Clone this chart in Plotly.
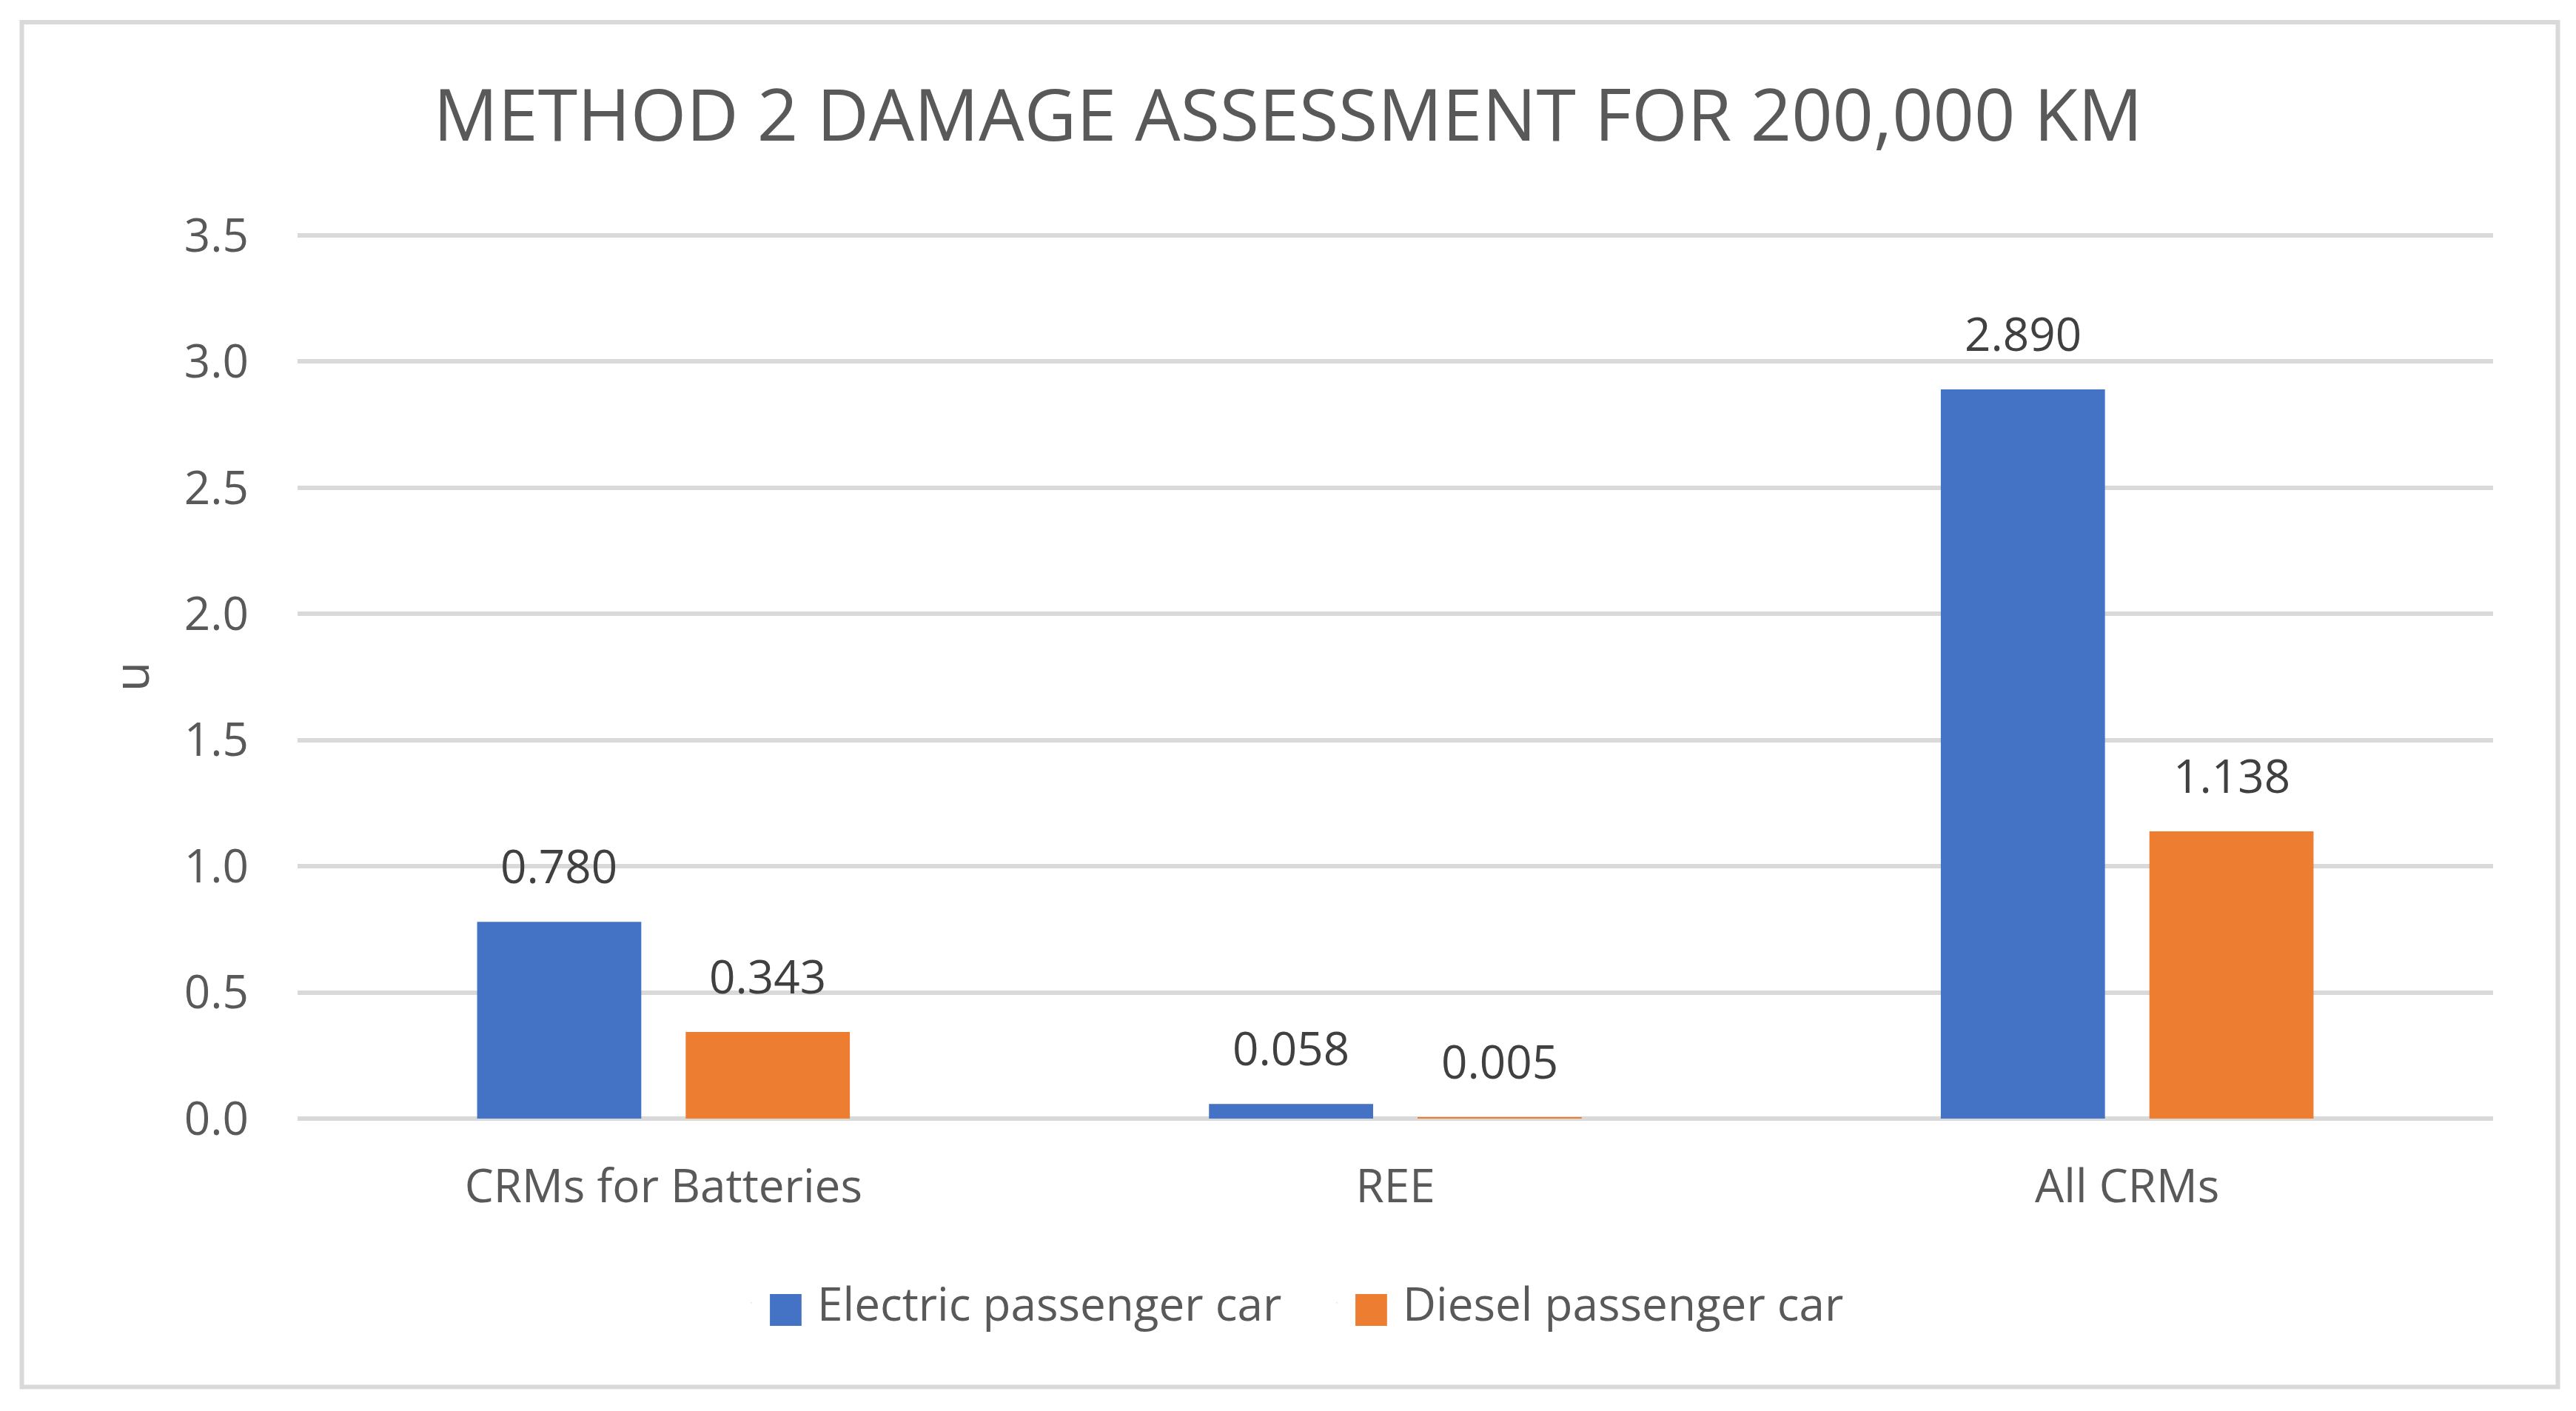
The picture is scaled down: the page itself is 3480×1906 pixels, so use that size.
import plotly.graph_objects as go

# ---- data ----
categories = ["CRMs for Batteries", "REE", "All CRMs"]
electric = [0.780, 0.058, 2.890]
diesel = [0.343, 0.005, 1.138]
series_names = ["Electric passenger car", "Diesel passenger car"]
series_colors = ["#4472C4", "#ED7D31"]
y_ticks = [0.0, 0.5, 1.0, 1.5, 2.0, 2.5, 3.0, 3.5]
title_text = "METHOD 2 DAMAGE ASSESSMENT FOR 200,000 KM"
y_title = "u"

# ---- layout geometry (pixels) ----
W, H = 3480, 1906
ML, MR, MT, MB = 402, 112, 317, 395
PW = W - ML - MR
PH = H - MT - MB
BARGAP = 0.43
BARGROUPGAP = 0.213
FONT = "Open Sans, Lato, sans-serif"
TXT = "#595959"
GRID = "#D9D9D9"

fig = go.Figure()
series_values = [electric, diesel]
for name, vals, col in zip(series_names, series_values, series_colors):
    fig.add_trace(go.Bar(x=categories, y=vals, name=name, marker_color=col,
                         marker_line_width=0, showlegend=False, legendgroup=name))

# legend entries with square glyphs
for name, col in zip(series_names, series_colors):
    fig.add_trace(go.Scatter(
        x=[None], y=[None], mode="markers",
        marker=dict(size=1, opacity=0),
        name=f"<span style='color:{col};font-family:DejaVu Sans;font-size:56px'>■</span> {name}",
        legendgroup=name, showlegend=True))

# data labels above bars
cat_px = PW / len(categories)
offset = (1 - BARGAP) / 4 * cat_px
for j, vals in enumerate(series_values):
    sh = -offset if j == 0 else offset
    for c, v in zip(categories, vals):
        fig.add_annotation(x=c, y=v, xref="x", yref="y", text=f"{v:.3f}",
                           showarrow=False, yanchor="middle", xshift=sh, yshift=76,
                           font=dict(family=FONT, size=62, color="#404040"))

# chart-area border
bx0, bx1, by0, by1 = 29.5, 3455.5, 30, 1873.5
fig.add_shape(type="rect", xref="paper", yref="paper",
              x0=(bx0 - ML) / PW, x1=(bx1 - ML) / PW,
              y0=(H - MB - by1) / PH, y1=(H - MB - by0) / PH,
              line=dict(color=GRID, width=6), fillcolor="rgba(0,0,0,0)", layer="below")

fig.update_layout(
    width=W, height=H,
    margin=dict(l=ML, r=MR, t=MT, b=MB, autoexpand=False),
    paper_bgcolor="white", plot_bgcolor="white",
    barmode="group", bargap=BARGAP, bargroupgap=BARGROUPGAP,
    font=dict(family=FONT, color=TXT, size=62),
    title=dict(text=title_text, x=0.5, xref="container", xanchor="center",
               y=1 - 156 / H, yref="container", yanchor="middle",
               font=dict(family=FONT, size=97, color=TXT)),
    legend=dict(orientation="h", xanchor="left", x=(995 - ML) / PW,
                yanchor="middle", y=(H - MB - 1760) / PH,
                entrywidth=746, entrywidthmode="pixels",
                font=dict(family=FONT, size=62, color=TXT),
                bgcolor="rgba(0,0,0,0)", itemclick=False, itemdoubleclick=False),
    xaxis=dict(type="category", showgrid=False, showline=False, zeroline=False,
               ticks="", ticklabelstandoff=50,
               tickfont=dict(family=FONT, size=62, color=TXT)),
    yaxis=dict(range=[0, 3.503], tickvals=y_ticks, tickformat=".1f",
               showgrid=True, gridcolor=GRID, gridwidth=6,
               zeroline=True, zerolinecolor=GRID, zerolinewidth=6,
               showline=False, ticks="", ticklabelstandoff=65,
               tickfont=dict(family=FONT, size=62, color=TXT),
               title=dict(text=y_title, standoff=25,
                          font=dict(family=FONT, size=66, color=TXT))),
)

fig.write_html("out.html", config={"displayModeBar": False},
               post_script="document.body.style.margin='0';document.body.style.overflow='hidden';")
